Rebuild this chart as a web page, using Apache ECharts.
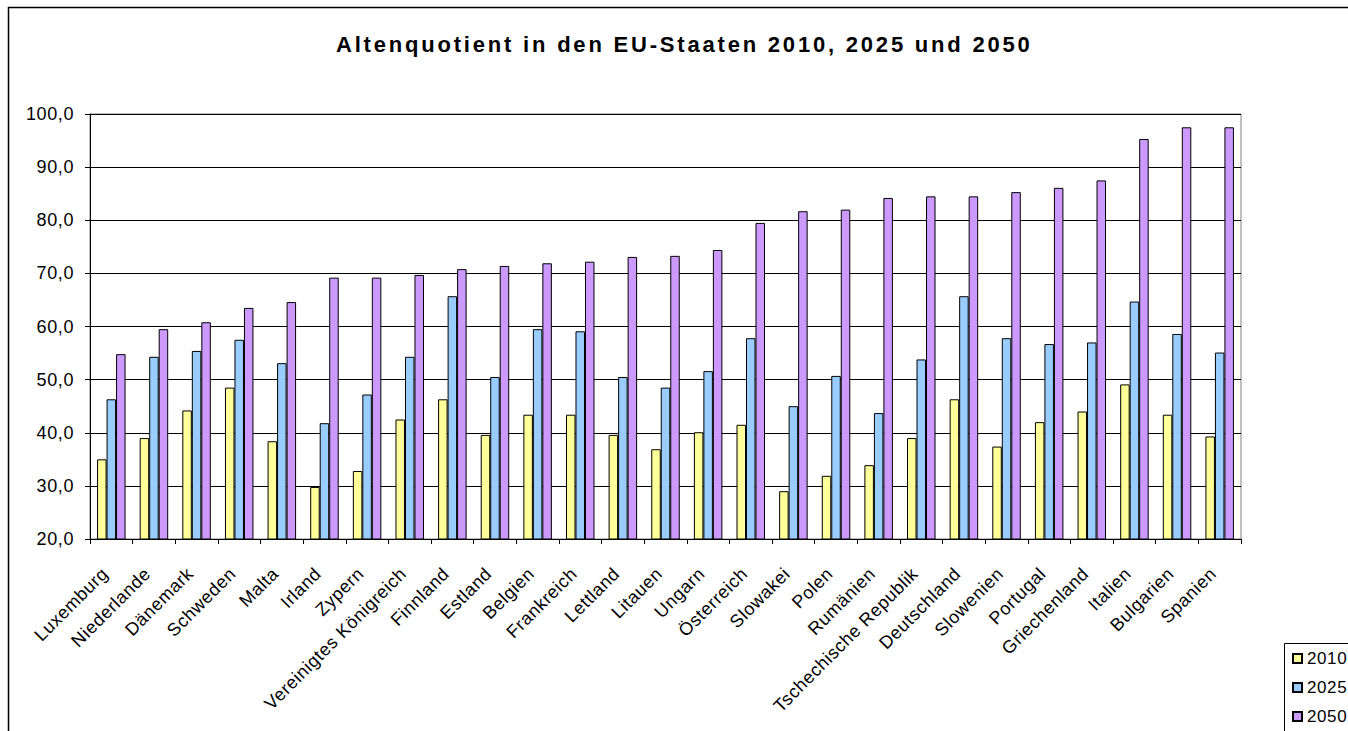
<!DOCTYPE html>
<html>
<head>
<meta charset="utf-8">
<script src="https://cdn.jsdelivr.net/npm/echarts@6/dist/echarts.min.js"></script>
<style>
  html, body { margin: 0; padding: 0; background: #fff; }
  #chart { width: 1348px; height: 731px; }
  /* slightly open tracking for all chart text, wide tracking for the bold title */
  #chart svg text { letter-spacing: 0.6px; }
  #chart svg text[style*="bold"] { letter-spacing: 2.8px; }
</style>
</head>
<body>
<div id="chart"></div>
<script>
// Altenquotient (Personen ab 65 je 100 Personen im Erwerbsalter)
const countries = [
  'Luxemburg', 'Niederlande', 'Dänemark', 'Schweden', 'Malta', 'Irland', 'Zypern',
  'Vereinigtes Königreich', 'Finnland', 'Estland', 'Belgien', 'Frankreich', 'Lettland',
  'Litauen', 'Ungarn', 'Österreich', 'Slowakei', 'Polen', 'Rumänien',
  'Tschechische Republik', 'Deutschland', 'Slowenien', 'Portugal', 'Griechenland',
  'Italien', 'Bulgarien', 'Spanien'
];
const years = ['2010', '2025', '2050'];
const values2010 = [35.0, 39.0, 44.2, 48.5, 38.4, 29.8, 32.8, 42.5, 46.3, 39.6, 43.4, 43.4, 39.6,
  36.9, 40.1, 41.5, 29.0, 31.9, 33.9, 39.0, 46.3, 37.4, 42.0, 44.0, 49.1, 43.4, 39.3];
const values2025 = [46.3, 54.3, 55.4, 57.5, 53.1, 41.8, 47.2, 54.3, 65.7, 50.5, 59.5, 59.1, 50.5,
  48.5, 51.6, 57.8, 45.0, 50.7, 43.7, 53.8, 65.7, 57.8, 56.7, 57.0, 64.7, 58.6, 55.1];
const values2050 = [54.8, 59.5, 60.8, 63.5, 64.6, 69.2, 69.2, 69.7, 70.8, 71.4, 71.9, 72.2, 73.1,
  73.3, 74.4, 79.5, 81.7, 82.0, 84.2, 84.5, 84.5, 85.3, 86.1, 87.5, 95.3, 97.5, 97.5];
const yTicks = { min: 20, max: 100, step: 10 };

const seriesColors = ['#FFFF99', '#99CCFF', '#CC99FF'];
const seriesData = [values2010, values2025, values2050];
const FONT = '"Liberation Sans", Arial, sans-serif';

const chart = echarts.init(document.getElementById('chart'), null, { renderer: 'svg' });

chart.setOption({
  animation: false,
  backgroundColor: '#fff',
  textStyle: { fontFamily: FONT, color: '#000' },
  title: {
    text: 'Altenquotient in den EU-Staaten 2010, 2025 und 2050',
    left: 331,
    top: 28,
    textStyle: { fontFamily: FONT, fontSize: 22, fontWeight: 'bold', color: '#000' }
  },
  legend: {
    orient: 'vertical',
    left: 1292,
    top: 650,
    padding: 0,
    itemWidth: 9,
    itemHeight: 9,
    itemGap: 12,
    icon: 'rect',
    data: years,
    textStyle: { fontFamily: FONT, fontSize: 17, color: '#000' }
  },
  grid: { left: 90, right: 107, top: 114, bottom: 192, containLabel: false,
    show: true, borderColor: '#808080', borderWidth: 1 },
  xAxis: {
    type: 'category',
    data: countries,
    boundaryGap: true,
    axisLine: { lineStyle: { color: '#000', width: 1 } },
    axisTick: { show: true, length: 5, interval: 0, lineStyle: { color: '#000' } },
    axisLabel: {
      interval: 0, rotate: 45, margin: 38, align: 'right', verticalAlign: 'bottom',
      fontFamily: FONT, fontSize: 18, color: '#000'
    }
  },
  yAxis: {
    type: 'value',
    min: yTicks.min,
    max: yTicks.max,
    interval: yTicks.step,
    axisLine: { show: true, lineStyle: { color: '#000', width: 1 } },
    axisTick: { show: true, length: 5, lineStyle: { color: '#000' } },
    axisLabel: {
      margin: 16, fontFamily: FONT, fontSize: 18, color: '#000',
      formatter: v => v.toFixed(1).replace('.', ',')
    },
    splitLine: { show: true, lineStyle: { color: '#000', width: 1 } }
  },
  series: years.map((y, i) => ({
    name: y,
    type: 'bar',
    data: seriesData[i],
    barWidth: 9.5,
    barGap: '0%',
    itemStyle: { color: seriesColors[i], borderColor: '#000', borderWidth: 1 }
  })),
  graphic: [
    { type: 'rect', shape: { x: 8.5, y: 7.5, width: 1400, height: 800 },
      style: { fill: 'none', stroke: '#000', lineWidth: 1.5 }, silent: true },
    { type: 'rect', shape: { x: 1284.5, y: 643.5, width: 100, height: 100 },
      style: { fill: 'none', stroke: '#000', lineWidth: 1 }, silent: true }
  ]
});
</script>
</body>
</html>
